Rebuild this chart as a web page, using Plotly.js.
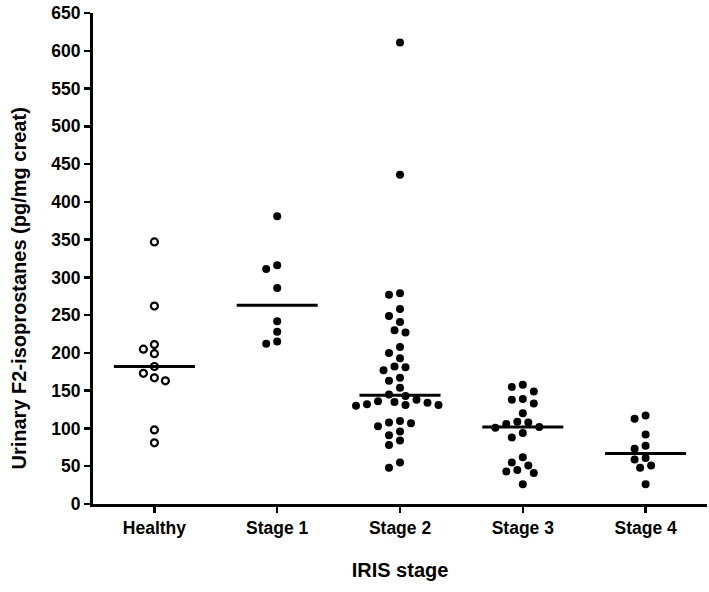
<!DOCTYPE html>
<html>
<head>
<meta charset="utf-8">
<script src="https://cdn.plot.ly/plotly-3.0.1.min.js"></script>
<style>html,body{margin:0;padding:0;background:#fff;}#chart{width:709px;height:592px;}</style>
</head>
<body>
<div id="chart"></div>
<script>
// ---- data ----
const categories = ['Healthy', 'Stage 1', 'Stage 2', 'Stage 3', 'Stage 4'];
const healthy = [347, 262, 211, 205, 199, 182, 173, 167, 163, 98, 81];
const stage1 = [381, 316, 311, 286, 242, 228, 215, 212];
const stage2 = [611, 436, 279, 277, 258, 249, 241, 230, 227, 208, 200, 193, 182, 181, 177, 167, 163, 154,
                145, 143, 138, 136, 135, 134, 132, 131, 131, 130, 110, 108, 107, 103, 96, 91, 84, 78, 55, 48];
const stage3 = [158, 155, 149, 139, 138, 133, 120, 109, 108, 106, 102, 101, 94, 88, 62, 55, 51, 45, 43, 41, 26];
const stage4 = [117, 113, 92, 77, 73, 61, 59, 51, 48, 26];
const medians = [182, 263, 144, 102, 67];
const groups = [healthy, stage1, stage2, stage3, stage4];
const xTitle = 'IRIS stage';
const yTitle = 'Urinary F2-isoprostanes (pg/mg creat)';

// ---- geometry for the beeswarm spread (pixel based) ----
const W = 709, H = 592;
const M = {l: 93, r: 2, t: 13, b: 88};
const yMax = 650;
const pxPerCat = (W - M.l - M.r) / 5;
const pxPerUnit = (H - M.t - M.b) / yMax;
const D = 9;     // min center distance, px
const STEP = 5.5; // horizontal grid step, px

function swarm(vals) {
  const placed = [];
  const off = new Array(vals.length);
  const cands = [0];
  for (let k = 1; k <= 12; k++) cands.push(-k * STEP, k * STEP);
  vals.forEach((v, i) => {
    const y = v * pxPerUnit;
    const x = cands.find(cx => placed.every(p => Math.hypot(p.x - cx, p.y - y) >= D - 1e-6));
    placed.push({x, y});
    off[i] = x / pxPerCat;
  });
  return off;
}

const traces = [];
groups.forEach((vals, gi) => {
  const off = swarm(vals);
  const isOpen = gi === 0;
  traces.push({
    type: 'scatter', mode: 'markers',
    x: vals.map((v, k) => gi + off[k]), y: vals,
    marker: isOpen
      ? {symbol: 'circle-open', size: 7, color: '#000', line: {width: 2.2, color: '#000'}}
      : {symbol: 'circle', size: 8, color: '#000', line: {width: 0}},
    hoverinfo: 'y', showlegend: false, cliponaxis: false
  });
});

const mx = [], my = [];
medians.forEach((m, i) => { mx.push(i - 0.33, i + 0.33, null); my.push(m, m, null); });
traces.push({type: 'scatter', mode: 'lines', x: mx, y: my, line: {color: '#000', width: 3}, showlegend: false, hoverinfo: 'skip'});

const fontFam = 'Liberation Sans, Arial, sans-serif';
const layout = {
  width: W, height: H,
  margin: M,
  paper_bgcolor: '#fff', plot_bgcolor: '#fff',
  showlegend: false,
  font: {family: fontFam, color: '#000'},
  xaxis: {
    range: [-0.5, 4.5], tickmode: 'array', tickvals: [0, 1, 2, 3, 4], ticktext: categories,
    showline: true, linewidth: 3, linecolor: '#000', mirror: false,
    ticks: 'outside', ticklen: 6, tickwidth: 2.5, tickcolor: '#000',
    showgrid: false, zeroline: false,
    tickfont: {family: fontFam, size: 17.5, weight: 'bold', color: '#000'},
    title: {text: xTitle, font: {family: fontFam, size: 20, weight: 'bold', color: '#000'}, standoff: 26}
  },
  yaxis: {
    range: [0, yMax], tickmode: 'linear', tick0: 0, dtick: 50,
    showline: true, linewidth: 3, linecolor: '#000',
    ticks: 'outside', ticklen: 6, tickwidth: 2.5, tickcolor: '#000',
    showgrid: false, zeroline: false,
    tickfont: {family: fontFam, size: 17.5, weight: 'bold', color: '#000'},
    title: {text: ''}
  },
  annotations: [{
    xref: 'paper', yref: 'paper', x: (18 - M.l) / (W - M.l - M.r), y: 0.5, yshift: -30,
    xanchor: 'center', yanchor: 'middle', textangle: -90, showarrow: false,
    text: yTitle, font: {family: fontFam, size: 20, weight: 'bold', color: '#000'}
  }]
};

Plotly.newPlot('chart', traces, layout, {displayModeBar: false, staticPlot: true});
</script>
</body>
</html>
